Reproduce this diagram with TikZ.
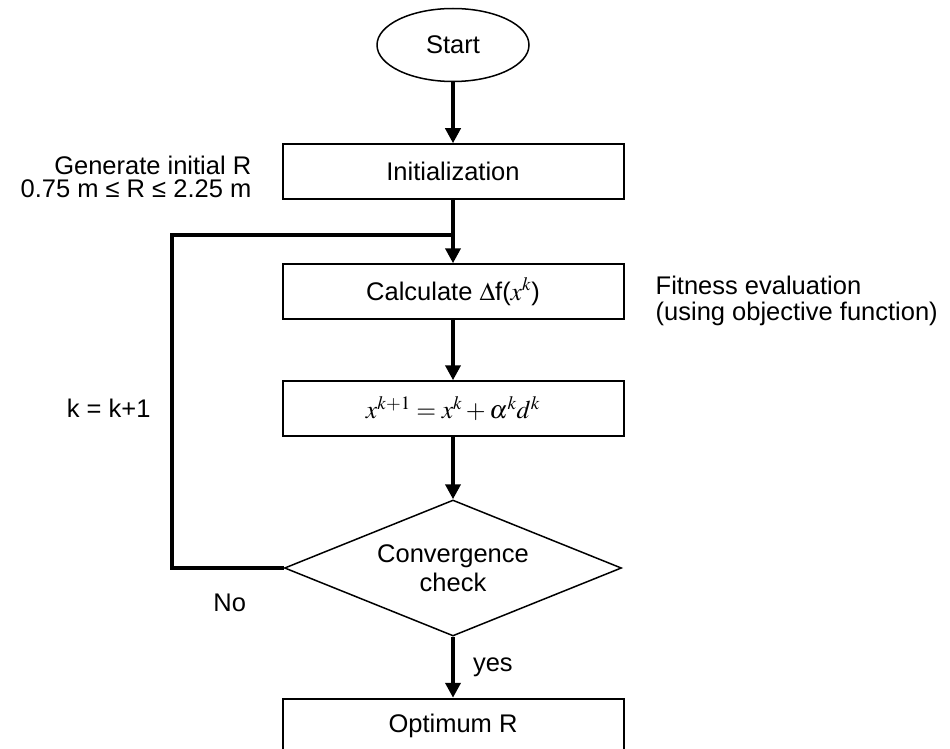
\documentclass[tikz,border=0pt]{standalone}
\usepackage{mathptmx}
\usepackage{fontspec}
\setmainfont{Liberation Sans}
\usetikzlibrary{shapes.geometric,calc,positioning}
\usetikzlibrary{arrows.meta}

\begin{document}
\begin{tikzpicture}[%
    x=1pt, y=1pt,
    text=black,
    node font=\fontsize{25.5}{23}\selectfont,
    >={Triangle[width=15pt,length=15pt]},
    flow/.style={line width=4pt},
    box/.style={rectangle, draw, line width=2pt, inner sep=0,
      minimum width=341pt, minimum height=55pt},
    note/.style={inner sep=0}]

  \useasboundingbox (0,0) rectangle (950,-749);

  %
  \node (START) at (453,-45) [ellipse, draw, line width=1.5pt,
    minimum width=152pt, minimum height=73pt] {Start};

  \node (INIT) [below=61pt of START, box] {Initialization};
  \node (CALC) [below=63pt of INIT, box] {Calculate $\Delta$f($x^k$)};
  \node (UPD)  [below=60pt of CALC, box] {$x^{k+1} = x^k + \alpha^k d^k$};

  \node (CONV) [below=62pt of UPD, diamond, draw, line width=1.5pt,
    shape aspect=2.47, inner sep=0, minimum width=337pt,
    minimum height=136pt, align=center,
    node font=\fontsize{25.5}{29}\selectfont]
        {Convergence\\check};

  \node (OPT) [below=61pt of CONV, box] {Optimum R};

  % side notes
  \node (GEN) [left=30pt of INIT, yshift=-5.5pt, note, align=right]
        {Generate initial R\\0.75 m ≤ R ≤ 2.25 m};
  \node (FIT) [right=31pt of CALC, yshift=-9pt, note, align=left,
    node font=\fontsize{25.5}{26}\selectfont]
        {Fitness evaluation\\(using objective function)};

  % join for the loop back
  \coordinate (JN) at ($(CALC.north)+(0,28)$);
  \coordinate (LP) at ($(CONV.west)+(-112,0)$);
  \coordinate (LPk) at (UPD -| LP);

  \draw[->,flow] (START) -- (INIT);
  \draw[->,flow] (INIT) -- (CALC);
  \draw[->,flow] (CALC) -- (UPD);
  \draw[->,flow] (UPD) -- (CONV);
  \draw[->,flow] (CONV) -- node[right=18pt, note] {yes} (OPT);

  \draw[flow] (CONV.west) -- (LP) |- (JN);

  \node (KK) [left=21pt of LPk, note] {k = k+1};
  \node (NO) at ($(CONV.west)+(-54,-35)$) [note] {No};
\end{tikzpicture}
\end{document}
